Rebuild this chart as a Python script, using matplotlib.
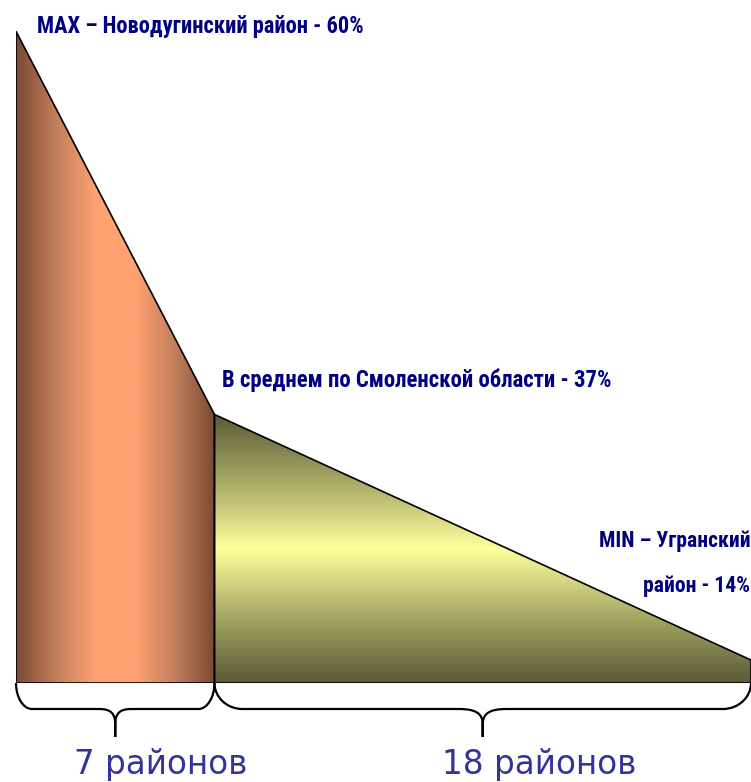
#!/usr/bin/env python
# -*- coding: utf-8 -*-

import matplotlib
matplotlib.use("Agg")
import matplotlib.pyplot as plt
import numpy as np
from matplotlib.colors import LinearSegmentedColormap
from matplotlib.patches import Polygon, PathPatch
from matplotlib.path import Path

# shape of the chart (percent of plot width / height)
edge_x = [0, 27, 100]
top_y = [99.5, 41, 3.5]

group_counts = ["7 районов", "18 районов"]
label_max = "MAX – Новодугинский район - 60%"
label_avg = "В среднем по Смоленской области - 37%"
label_min = ["MIN – Угранский", "район - 14%"]

W, H = 751, 782
fig = plt.figure(figsize=(W / 100, H / 100), dpi=100)
ax = fig.add_axes([16 / W, (H - 683) / H, 735 / W, 655 / H])
ax.set_xlim(0, 100)
ax.set_ylim(0, 100)
ax.axis("off")

bold_font = ["Roboto Condensed", "Liberation Sans Narrow", "Roboto", "DejaVu Sans"]

# left part: horizontal brown gradient
left_pts = [(edge_x[0], 0), (edge_x[0], top_y[0]), (edge_x[1], top_y[1]), (edge_x[1], 0)]
left_poly = Polygon(left_pts, closed=True, facecolor="none", edgecolor="black", lw=1.2, zorder=3)
ax.add_patch(left_poly)
cmap_left = LinearSegmentedColormap.from_list(
    "brown", ["#7a4a32", "#c27f5c", "#ffa272", "#ffa272", "#c27f5c", "#7a4a32"])
grad = np.linspace(0, 1, 256).reshape(1, -1)
im = ax.imshow(grad, cmap=cmap_left, aspect="auto", interpolation="bicubic",
               extent=[edge_x[0], edge_x[1], 0, top_y[0]], zorder=2)
im.set_clip_path(left_poly)

# right part: vertical olive / yellow gradient
right_pts = [(edge_x[1], 0), (edge_x[1], top_y[1]), (edge_x[2], top_y[2]), (edge_x[2], 0)]
right_poly = Polygon(right_pts, closed=True, facecolor="none", edgecolor="black", lw=1.2, zorder=3)
ax.add_patch(right_poly)
cmap_right = LinearSegmentedColormap.from_list(
    "olive", ["#5a5a36", "#a8a866", "#ffff9c", "#a8a866", "#5a5a36"])
grad_v = np.linspace(0, 1, 256).reshape(-1, 1)
im2 = ax.imshow(grad_v, cmap=cmap_right, aspect="auto", interpolation="bicubic",
                extent=[edge_x[1], edge_x[2], 0, top_y[1]], zorder=2)
im2.set_clip_path(right_poly)


def brace(x0, x1, rx, cx, yh=-3.97, yt=-8.24):
    xm = (x0 + x1) / 2
    ymid = yh + (yt - yh) * 0.55
    verts = [
        (x0, 0), (x0, yh * 0.55), (x0 + rx * 0.45, yh), (x0 + rx, yh),
        (xm - cx, yh),
        (xm - cx * 0.3, yh), (xm, yh + (yt - yh) * 0.15), (xm, ymid),
        (xm, yt),
        (xm, ymid),
        (xm, yh + (yt - yh) * 0.15), (xm + cx * 0.3, yh), (xm + cx, yh),
        (x1 - rx, yh),
        (x1 - rx * 0.45, yh), (x1, yh * 0.55), (x1, 0),
    ]
    codes = [Path.MOVETO, Path.CURVE4, Path.CURVE4, Path.CURVE4,
             Path.LINETO,
             Path.CURVE4, Path.CURVE4, Path.CURVE4,
             Path.LINETO, Path.LINETO,
             Path.CURVE4, Path.CURVE4, Path.CURVE4,
             Path.LINETO,
             Path.CURVE4, Path.CURVE4, Path.CURVE4]
    ax.add_patch(PathPatch(Path(verts, codes), facecolor="none", edgecolor="black",
                           lw=1.6, clip_on=False, zorder=3))


px = 100 / 735
brace(edge_x[0], edge_x[1], 16 * px, 16 * px)
brace(edge_x[1], edge_x[2], 28 * px, 24 * px)

# counts under the braces
ax.text(19.7, -13.9, group_counts[0], fontsize=23.5, color="#333399",
        ha="center", va="baseline", clip_on=False)
ax.text(71.2, -13.9, group_counts[1], fontsize=23.5, color="#333399",
        ha="center", va="baseline", clip_on=False)

# annotations, each fitted to the width it has in the reference
renderer = fig.canvas.get_renderer()


def label(x, y, s, width_px, ha="left"):
    t = ax.text(x, y, s, fontsize=17, fontweight="bold", color="#000080",
                family=bold_font, ha=ha, va="baseline", clip_on=False)
    w = t.get_window_extent(renderer).width
    t.set_fontsize(17 * width_px / w)
    return t


label(2.86, 99.2, label_max, 328)
label(28.0, 45.2, label_avg, 390)
t_min = label(99.9, 20.8, label_min[0], 152, ha="right")
ax.text(99.85, 13.9, label_min[1], fontsize=t_min.get_fontsize(), fontweight="bold",
        color="#000080", family=bold_font, ha="right", va="baseline", clip_on=False)

fig.savefig("out.png", dpi=100)
